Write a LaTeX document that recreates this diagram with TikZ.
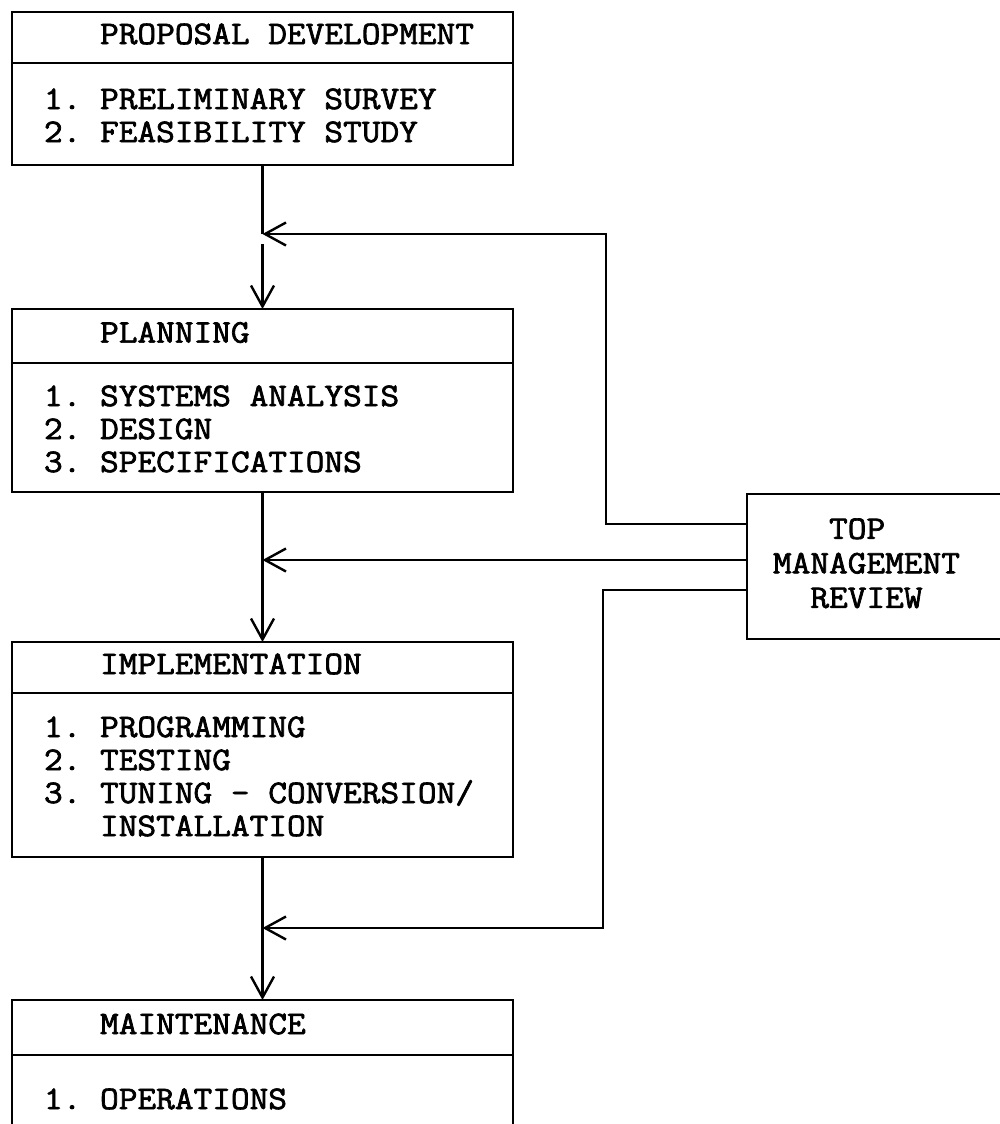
\documentclass[tikz,border=0pt]{standalone}
\usepackage{graphicx}
\usepackage{fontspec}
\setmonofont{Latin Modern Mono}[FakeBold=2]
\usepackage{tikz}
\usetikzlibrary{positioning,arrows.meta}

\newcommand{\tw}[1]{\ttfamily\fontsize{33}{#1}\selectfont\frenchspacing}
\newcommand{\ind}[1]{\hphantom{#1}}
\newcommand{\gap}{\hphantom{0}}
\newcommand{\wide}[1]{\scalebox{1.1}[1]{\begin{tabular}{@{}l@{}}#1\end{tabular}}}
\newcommand{\items}[1]{\wide{\rule{0pt}{33pt}#1}}

\begin{document}
\begin{tikzpicture}[x=1pt,y=-1pt,line width=2.4pt,
  stagebox/.style={draw,outer sep=0pt,anchor=north west,align=left,
    text width=437pt,inner xsep=32pt,inner ysep=0pt,font=\tw{33}},
  flow/.style={-{Straight Barb[length=21pt,width=23pt]}}]
\useasboundingbox (0,0) rectangle (1000,1124);

\node[stagebox,minimum height=51pt] (prophead) at (12,12) {\wide{\ind{000}PROPOSAL\gap DEVELOPMENT}};
\node[stagebox,minimum height=102pt,below=0pt of prophead] (propbody)
  {\items{1.\gap PRELIMINARY\gap SURVEY\\2.\gap FEASIBILITY\gap STUDY}};

\node[stagebox,minimum height=54pt] (planhead) at (12,309) {\wide{\ind{000}PLANNING}};
\node[stagebox,minimum height=129pt,below=0pt of planhead] (planbody)
  {\items{1.\gap SYSTEMS\gap ANALYSIS\\2.\gap DESIGN\\3.\gap SPECIFICATIONS}};

\node[stagebox,minimum height=51pt] (implhead) at (12,642) {\wide{\ind{000}IMPLEMENTATION}};
\node[stagebox,minimum height=164pt,below=0pt of implhead] (implbody)
  {\items{1.\gap PROGRAMMING\\2.\gap TESTING\\3.\gap TUNING\gap -\gap CONVERSION/\\\ind{000}INSTALLATION}};

\node[stagebox,minimum height=55pt] (mainthead) at (12,1000) {\wide{\ind{000}MAINTENANCE}};
\node[stagebox,minimum height=85pt,below=0pt of mainthead] (maintbody)
  {\items{1.\gap OPERATIONS}};

\node[draw,outer sep=0pt,anchor=west,minimum height=145pt,text width=237pt,
  inner xsep=26pt,align=left,font=\tw{34.5}]
  (review) at (747,566.5) {\wide{\ind{000}TOP\\MANAGEMENT\\\ind{00}REVIEW}};

\coordinate (j1) at (propbody.south |- 0,234);
\coordinate (j2) at (propbody.south |- 0,560);
\coordinate (j3) at (propbody.south |- 0,928);
\coordinate (t1) at (review.west |- 0,524);
\coordinate (t2) at (review.west |- 0,560);
\coordinate (t3) at (review.west |- 0,590);
\coordinate (c1) at (606,234);
\coordinate (c3) at (603,928);

\draw (propbody) -- (j1);
\draw[flow] ([yshift=-10pt]j1) -- (planhead);
\draw[flow] (planbody) -- (implhead);
\draw[flow] (implbody) -- (mainthead);

\draw[flow] (t1) -| (c1) -- (j1);
\draw[flow] (t2) -- (j2);
\draw[flow] (t3) -| (c3) -- (j3);
\end{tikzpicture}
\end{document}
